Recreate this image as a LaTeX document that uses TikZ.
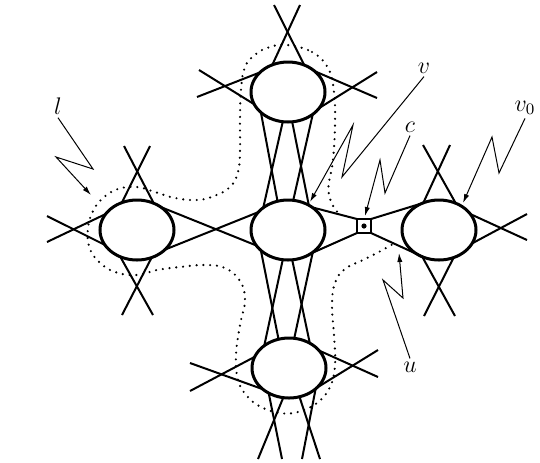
\documentclass[tikz,border=0pt]{standalone}
\usepackage{amsmath}
\usetikzlibrary{shapes.geometric,arrows.meta,backgrounds}

\begin{document}
\begin{tikzpicture}[
  x=0.5pt,
  y=-0.5pt,
  blob/.style={
    ellipse,
    draw,
    fill=white,
    line width=1.5pt,
    minimum width=37pt,
    minimum height=30pt,
    inner sep=0pt,
    outer sep=0pt
  },
  joint/.style={
    rectangle,
    draw,
    fill=white,
    line width=1pt,
    minimum size=7pt,
    inner sep=0pt,
    outer sep=0pt
  },
  edge/.style={line width=1pt},
  dots/.style={line width=1.2pt, line cap=round, dash pattern=on 0pt off 3.4pt},
  pointer/.style={line width=0.5pt, -{Latex[length=4.5pt,width=2.6pt]}},
  lbl/.style={inner sep=1.5pt, font=\large}
]
\useasboundingbox (0,0) rectangle (540,462);

% the five ellipses and the small box
\node[blob] (top) at (288,92) {};
\node[blob] (lft) at (137,230) {};
\node[blob] (mid) at (288,230) {};
\node[blob] (rgt) at (439,230) {};
\node[blob] (bot) at (289,368) {};
\node[joint] (c) at (364,226) {};
\fill (c) circle (1.3pt);

% dotted region, hidden inside the funnel
\begin{scope}[on background layer]
\draw[dots] plot[smooth cycle, tension=0.7] coordinates {
  (287,45) (312,52) (328,68) (334,92) (335,125) (333,160) (329,195)
  (345,220) (362,226) (385,232) (400,238) (386,248) (365,259) (345,269)
  (335,283) (332,305) (334,335) (335,365) (330,387) (317,403) (298,412)
  (280,413) (261,407) (247,396) (238,380) (236,355) (240,325) (245,300)
  (240,281) (225,268) (205,265) (180,267) (157,270) (137,275) (115,272)
  (98,261) (89,246) (88,228) (93,211) (103,198) (118,189) (137,187)
  (155,192) (175,198) (197,200) (214,196) (230,187) (238,172) (240,150)
  (240,120) (241,90) (245,67) (256,54) (270,47)};
\fill[white] (mid.43) -- (c.north west) -- (c.north east) -- (rgt.122)
  -- (rgt.243) -- (c.south east) -- (c.south west) -- (mid.315) -- cycle;
\end{scope}

% top
\draw[edge] (top.59) -- (274,5);
\draw[edge] (top.120) -- (300,5);
\draw[edge] (top.200) -- (199,70);
\draw[edge] (top.145) -- (197,97);
\draw[edge] (top.333) -- (377,72);
\draw[edge] (top.38) -- (377,98);
\draw[edge] (top.217) -- (mid.110);
\draw[edge] (top.260) -- (mid.138);
\draw[edge] (top.278) -- (mid.50);
\draw[edge] (top.318) -- (mid.80);

% middle
\draw[edge] (mid.217) -- (bot.110);
\draw[edge] (mid.260) -- (bot.138);
\draw[edge] (mid.278) -- (bot.50);
\draw[edge] (mid.318) -- (bot.80);
\draw[edge] (lft.44) -- (mid.206);
\draw[edge] (lft.325) -- (mid.149);
\draw[edge] (mid.43) -- (c.north west);
\draw[edge] (mid.315) -- (c.south west);
\draw[edge] (c.north east) -- (rgt.122);
\draw[edge] (c.south east) -- (rgt.243);

% left
\draw[edge] (lft.58) -- (124,146);
\draw[edge] (lft.119) -- (150,146);
\draw[edge] (lft.238) -- (153,315);
\draw[edge] (lft.298) -- (122,315);
\draw[edge] (lft.205) -- (47,216);
\draw[edge] (lft.153) -- (47,242);

% right
\draw[edge] (rgt.58) -- (423,145);
\draw[edge] (rgt.120) -- (450,145);
\draw[edge] (rgt.27) -- (527,240);
\draw[edge] (rgt.338) -- (527,214);
\draw[edge] (rgt.238) -- (455,316);
\draw[edge] (rgt.298) -- (424,316);

% bottom
\draw[edge] (bot.219) -- (190,363);
\draw[edge] (bot.162) -- (190,391);
\draw[edge] (bot.325) -- (378,350);
\draw[edge] (bot.30) -- (378,377);
\draw[edge] (bot.231) -- (282,459);
\draw[edge] (bot.259) -- (258,459);
\draw[edge] (bot.290) -- (320,459);
\draw[edge] (bot.322) -- (302,459);

% labels
\node[lbl] (ll) at (58,106) {$l$};
\draw[pointer] (ll.south) -- (93,169) -- (56,157) -- (91,195);
\node[lbl] (lv) at (424,68) {$v$};
\draw[pointer] (lv.south) -- (342,177) -- (353,125) -- (310,202);
\node[lbl] (lc) at (410,127) {$c$};
\draw[pointer] (lc.south) -- (385,193) -- (380,160) -- (365,216);
\node[lbl] (lv0) at (525,108) {$v_0$};
\draw[pointer] (lv0.south) -- (499,173) -- (492,137) -- (463,203);
\node[lbl] (lu) at (410,367) {$u$};
\draw[pointer] (lu.north) -- (383,280) -- (403,298) -- (399,253);
\end{tikzpicture}
\end{document}
